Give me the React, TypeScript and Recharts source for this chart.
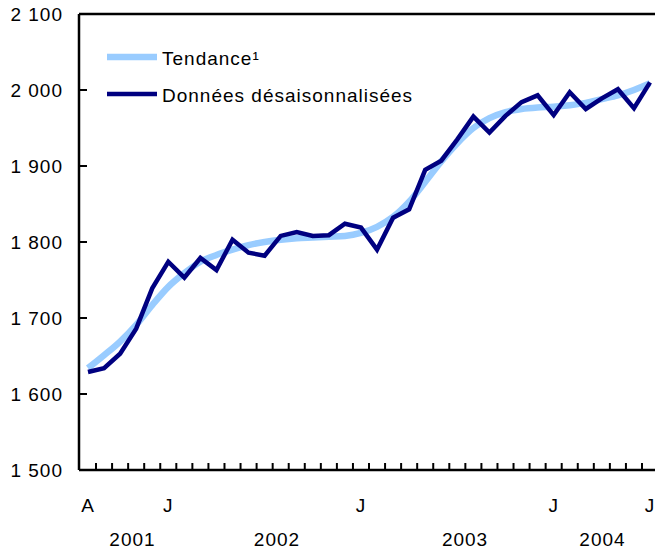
import React from 'react';
import { LineChart, Line, XAxis, YAxis, ReferenceLine, Legend } from 'recharts';

const FONT = '"Liberation Sans", Arial, Helvetica, sans-serif';

// Aug 2001 .. Jul 2004 (French month initials)
const monthLetters = ['A', 'S', 'O', 'N', 'D', 'J', 'F', 'M', 'A', 'M', 'J', 'J', 'A', 'S', 'O', 'N', 'D', 'J', 'F', 'M', 'A', 'M', 'J', 'J', 'A', 'S', 'O', 'N', 'D', 'J', 'F', 'M', 'A', 'M', 'J', 'J'];
const labeledMonths = [0, 5, 17, 29, 35];
const yearLabels = ['2001', '2002', '2003', '2004'];
const yearPositions = [2.77, 11.77, 23.48, 32.04];

const trend = [1634, 1651, 1669, 1691, 1717, 1741, 1759, 1774, 1783, 1790, 1796, 1800, 1803, 1805, 1806, 1807, 1808, 1812, 1820, 1833, 1853, 1879, 1906, 1930, 1950, 1963, 1971, 1975, 1977, 1978, 1980, 1983, 1988, 1993, 2000, 2009];
const seasonallyAdjusted = [1629, 1634, 1653, 1686, 1739, 1774, 1753, 1779, 1763, 1803, 1786, 1782, 1808, 1813, 1808, 1809, 1824, 1819, 1790, 1832, 1843, 1895, 1907, 1935, 1965, 1944, 1966, 1984, 1993, 1967, 1997, 1975, 1989, 2001, 1976, 2010];

const yTicks = [1500, 1600, 1700, 1800, 1900, 2000, 2100];
const seriesNames = ['Tendance¹', 'Données désaisonnalisées'];
const seriesColors = ['#99CCFF', '#000080'];

const data = trend.map((t, i) => ({ i, month: monthLetters[i], trend: t, sa: seasonallyAdjusted[i] }));
const boundaries = monthLetters.slice(1).map((_, i) => i + 0.5);

const fmt = (v: number) => {
  const s = String(v);
  return s.length > 3 ? s.slice(0, s.length - 3) + ' ' + s.slice(-3) : s;
};

const YTick = (props: any) => {
  const { x, y, payload } = props;
  return (
    <g>
      <line x1={x + 16} x2={x + 24} y1={y} y2={y} stroke="#000" strokeWidth={2} />
      <text x={x} y={y} dy={6.8} textAnchor="end" fontSize={19} letterSpacing={1} fill="#000" fontFamily={FONT}>
        {fmt(payload.value)}
      </text>
    </g>
  );
};

const XTickMark = (props: any) => {
  const { x, y } = props;
  return <line x1={x} x2={x} y1={y} y2={y - 7} stroke="#000" strokeWidth={2} />;
};

const MonthTick = (props: any) => {
  const { x, y, payload } = props;
  return (
    <text x={x} y={y + 21.8} textAnchor="middle" fontSize={19} letterSpacing={1} fill="#000" fontFamily={FONT}>
      {monthLetters[payload.value]}
    </text>
  );
};

const YearTick = (props: any) => {
  const { x, y, payload } = props;
  const idx = yearPositions.indexOf(payload.value);
  return (
    <text x={x} y={y + 24.3} textAnchor="middle" fontSize={19} letterSpacing={1} fill="#000" fontFamily={FONT}>
      {yearLabels[idx]}
    </text>
  );
};

const renderLegend = (props: any) => {
  const payload = [...(props.payload || [])].sort(
    (a: any, b: any) => seriesNames.indexOf(a.value) - seriesNames.indexOf(b.value)
  );
  const widths = [6.5, 4.5];
  const ys = [57, 94];
  return (
    <svg width={655} height={120} style={{ display: 'block' }}>
      {payload.map((p: any, k: number) => (
        <g key={k}>
          <line x1={107} x2={157} y1={ys[k]} y2={ys[k]} stroke={p.color} strokeWidth={widths[k]} />
          <text x={162} y={ys[k] + 7.5} fontSize={19} letterSpacing={1} fill="#000" fontFamily={FONT}>
            {p.value}
          </text>
        </g>
      ))}
    </svg>
  );
};

export default function App() {
  return (
    <div style={{ position: 'absolute', left: 0, top: 0, width: 655, height: 552, background: '#fff' }}>
      <LineChart width={655} height={552} data={data} margin={{ top: 14, right: 0, left: 0, bottom: 0 }}>
        <XAxis
          dataKey="i"
          type="number"
          domain={[-0.56, 35.31]}
          ticks={boundaries}
          interval={0}
          tick={<XTickMark />}
          tickLine={false}
          tickSize={0}
          tickMargin={0}
          axisLine={{ stroke: '#000', strokeWidth: 2.5 }}
          height={20}
          allowDataOverflow
        />
        <XAxis
          xAxisId="month"
          dataKey="i"
          type="number"
          domain={[-0.56, 35.31]}
          ticks={labeledMonths}
          interval={0}
          tick={<MonthTick />}
          tickLine={false}
          tickSize={0}
          tickMargin={0}
          axisLine={false}
          height={32}
          allowDataOverflow
        />
        <XAxis
          xAxisId="year"
          dataKey="i"
          type="number"
          domain={[-0.56, 35.31]}
          ticks={yearPositions}
          interval={0}
          tick={<YearTick />}
          tickLine={false}
          tickSize={0}
          tickMargin={0}
          axisLine={false}
          height={30}
          allowDataOverflow
        />
        <YAxis
          type="number"
          domain={[1500, 2100]}
          ticks={yTicks}
          interval={0}
          width={79}
          tick={<YTick />}
          tickLine={false}
          tickSize={0}
          tickMargin={16}
          axisLine={{ stroke: '#000', strokeWidth: 2.5 }}
          allowDataOverflow
        />
        <ReferenceLine y={2100} stroke="#000" strokeWidth={2.5} />
        <Legend
          layout="vertical"
          align="center"
          verticalAlign="middle"
          content={renderLegend}
          wrapperStyle={{ left: 0, top: 0, width: 655, height: 120 }}
        />
        <Line
          type="monotone"
          dataKey="trend"
          name={seriesNames[0]}
          stroke={seriesColors[0]}
          strokeWidth={6.5}
          dot={false}
          activeDot={false}
          isAnimationActive={false}
        />
        <Line
          type="linear"
          dataKey="sa"
          name={seriesNames[1]}
          stroke={seriesColors[1]}
          strokeWidth={4.5}
          dot={false}
          activeDot={false}
          isAnimationActive={false}
        />
      </LineChart>
    </div>
  );
}
